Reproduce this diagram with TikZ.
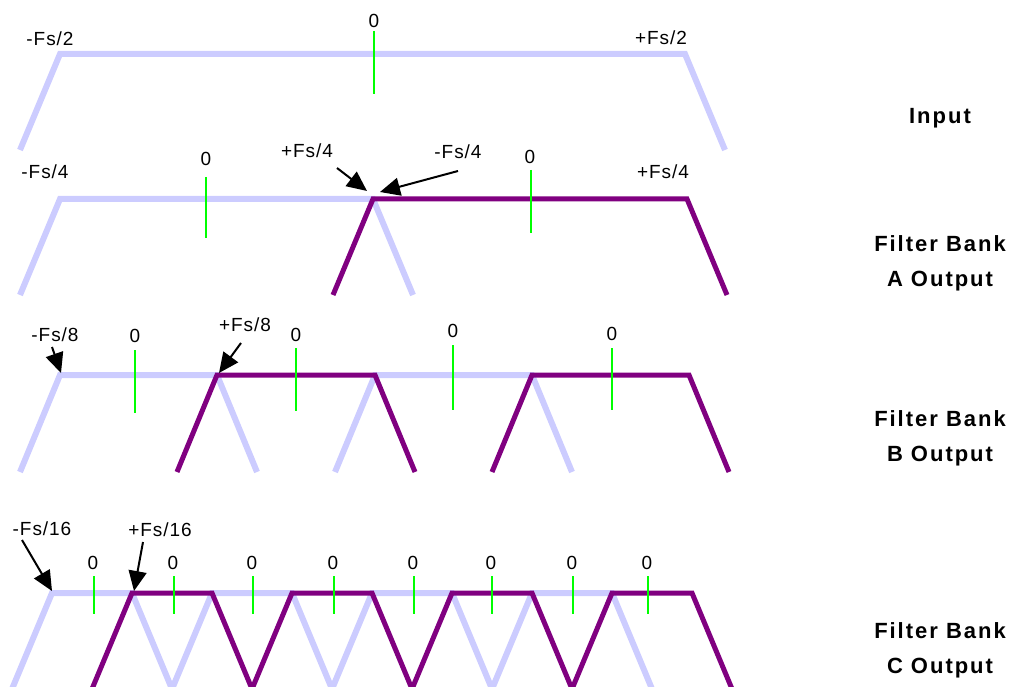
\documentclass[tikz,border=0pt]{standalone}
\usepackage{fontspec}
\setmainfont{Liberation Sans}
\newfontfamily\tickfont[LetterSpace=5]{Liberation Sans}
\newfontfamily\bandfont[LetterSpace=9]{Liberation Sans}
\usetikzlibrary{arrows.meta}

\definecolor{passblue}{HTML}{CCCCFF}
\definecolor{shiftpurple}{HTML}{800080}
\definecolor{zerogreen}{HTML}{00FF00}

\begin{document}
\begin{tikzpicture}[x=1pt, y=-1pt,
    band/.style={line width=6pt, passblue, line join=miter},
    shifted/.style={line width=5pt, shiftpurple, line join=miter},
    zero/.style={line width=2pt, zerogreen},
    freq/.style={font=\tickfont\fontsize{19}{21}\selectfont, inner sep=1pt},
    stage/.style={font=\bandfont\bfseries\fontsize{22}{35}\selectfont, align=center},
    pointer/.style={-{Triangle[length=20pt,width=18pt]}, line width=2pt, black}]

        \useasboundingbox (0,0) rectangle (1009,687);

        % --- Input ---
        \begin{scope}
            \draw[band] (20,150) -- (60,54) -- (685,54) -- (725,150);
            \draw[zero] (374,31) -- (374,94);

            \node[freq] (in-lo) at (50,39) {-Fs/2};
            \node[freq] (in-0) at (374,21) {0};
            \node[freq] (in-hi) at (661,38) {+Fs/2};
            \node[stage] (in-name) at (940,118) {Input};
        \end{scope}

        % --- Filter Bank A ---
        \begin{scope}
            \draw[band] (20,295) -- (60,199) -- (373,199) -- (413,295);
            \draw[shifted] (333,295) -- (373,199) -- (687,199) -- (727,295);
            \draw[zero] (206,177) -- (206,238);
            \draw[zero] (531,170) -- (531,233);

            \node[freq] (a-lo) at (45,172) {-Fs/4};
            \node[freq] (a-0l) at (206,159) {0};
            \node[freq] (a-hi) at (307,151) {+Fs/4};
            \node[freq] (a-lo2) at (458,152) {-Fs/4};
            \node[freq] (a-0r) at (530,157) {0};
            \node[freq] (a-hi2) at (663,172) {+Fs/4};
            \node[stage] (a-name) at (940,263) {Filter Bank\\A Output};

            % Pointers to the band edge
            \coordinate (a-tip1) at (367,191);
            \coordinate (a-tip2) at (380,192);
            \draw[pointer] (a-hi.center) ++(30,17) -- (a-tip1);
            \draw[pointer] (a-lo2.center) ++(0,19) -- (a-tip2);
        \end{scope}

        % --- Filter Bank B ---
        \begin{scope}
            \foreach \l/\r in {60/217, 375/532}
                \draw[band] (\l-40,472) -- (\l,375) -- (\r,375) -- (\r+40,472);
            \foreach \l/\r in {217/375, 532/689}
                \draw[shifted] (\l-40,472) -- (\l,375) -- (\r,375) -- (\r+40,472);
            \foreach \x/\t/\b/\y [count=\k] in {135/350/413/336, 296/348/411/335, 453/345/410/331, 612/348/410/334} {
                \draw[zero] (\x,\t) -- (\x,\b);
                \node[freq] (b-0-\k) at (\x,\y) {0};
            }

            \node[freq] (b-lo) at (55,335) {-Fs/8};
            \node[freq] (b-hi) at (245,325) {+Fs/8};
            \node[stage] (b-name) at (940,438) {Filter Bank\\B Output};

            % Pointers to the band edges
            \coordinate (b-tip1) at (61,373);
            \coordinate (b-tip2) at (219,373);
            \draw[pointer] (b-lo.center) ++(-3,12) -- (b-tip1);
            \draw[pointer] (b-hi.center) ++(-4,18) -- (b-tip2);
        \end{scope}

        % --- Filter Bank C ---
        \begin{scope}
            \foreach \l in {52,212,372,532}
                \draw[band] (\l-40,689) -- (\l,593) -- (\l+80,593) -- (\l+120,689);
            \foreach \l in {132,292,452,612}
                \draw[shifted] (\l-40,689) -- (\l,593) -- (\l+80,593) -- (\l+120,689);
            \foreach \x [count=\k] in {94,174,253,334,414,492,573,648} {
                \draw[zero] (\x,576) -- (\x,614);
                \node[freq] (c-0-\k) at (\x-1,563) {0};
            }

            \node[freq] (c-lo) at (42,529) {-Fs/16};
            \node[freq] (c-hi) at (160,530) {+Fs/16};
            \node[stage] (c-name) at (940,650) {Filter Bank\\C Output};

            % Pointers to the band edges
            \coordinate (c-tip1) at (52,591);
            \coordinate (c-tip2) at (134,591);
            \draw[pointer] (c-lo.center) ++(-20,11) -- (c-tip1);
            \draw[pointer] (c-hi.center) ++(-17,12) -- (c-tip2);
        \end{scope}

    \end{tikzpicture}
\end{document}
